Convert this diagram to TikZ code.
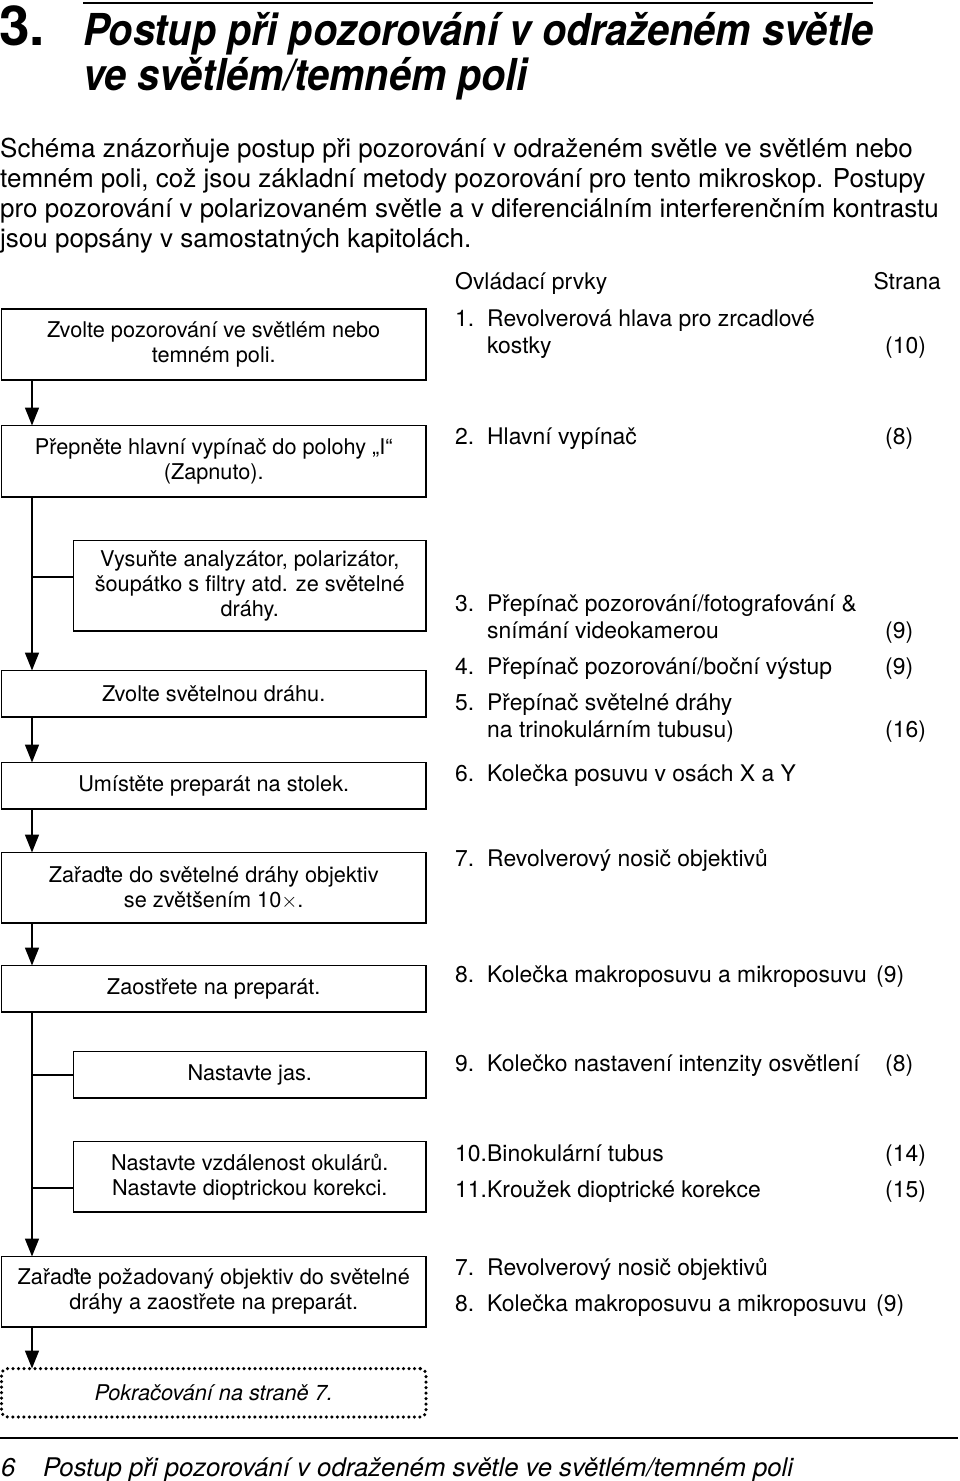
\documentclass[tikz,border=0pt]{standalone}
\usepackage{fontspec}
\setmainfont{TeX Gyre Heros}
\newfontfamily\titlefont[FakeStretch=0.9]{TeX Gyre Heros}
\usetikzlibrary{arrows.meta}
\tikzset{
  flow/.style={draw, line width=1.6pt, inner sep=0pt, outer sep=0pt, anchor=north west,
    align=center, font=\fontsize{21.7}{25}\selectfont},
  endbox/.style={flow, line width=3.5pt, dash pattern=on 0pt off 5.5pt, line cap=round,
    rounded corners=6pt, font=\fontsize{21.7}{25}\selectfont\itshape},
  conn/.style={line width=1.5pt},
  arr/.style={conn, -{Triangle[length=18pt,width=14pt]}},
  ctl/.style={anchor=base west, inner sep=0pt, font=\fontsize{22.9}{27}\selectfont},
  pge/.style={anchor=base east, inner sep=0pt, font=\fontsize{22.9}{27}\selectfont},
  para/.style={anchor=base west, inner sep=0pt, font=\fontsize{26}{30}\selectfont},
  ttl/.style={anchor=base west, inner sep=0pt, font=\titlefont\fontsize{44}{45}\selectfont\bfseries\itshape},
  foot/.style={anchor=base west, inner sep=0pt, font=\fontsize{25.7}{30}\selectfont\itshape}
}
\begin{document}
\begin{tikzpicture}[x=1pt,y=-1pt]
\useasboundingbox (0,0) rectangle (960,1481);
% header
\coordinate (hl1) at (83,3);
\coordinate (hl2) at (873,3);
\draw[line width=2.5pt] (hl1) -- (hl2);
\node[anchor=base west, inner sep=0pt, font=\fontsize{55}{55}\selectfont\bfseries] (num) at (-1,45) {3.};
\node[ttl] (t1) at (83,45) {Postup při pozorování v odraženém světle};
\node[ttl] (t2) at (83,90) {ve světlém/temném poli};
% paragraph
\node[para] (p1) at (0,157) {Schéma znázorňuje postup při pozorování v odraženém světle ve světlém nebo};
\node[para] (p2) at (0,187) {temném poli, což jsou základní metody pozorování pro tento mikroskop. Postupy};
\node[para] (p3) at (0,217) {pro pozorování v polarizovaném světle a v diferenciálním interferenčním kontrastu};
\node[para] (p4) at (0,247) {jsou popsány v samostatných kapitolách.};
% flow boxes
\coordinate (sp) at (32,0);
\node[flow, minimum width=424.5pt, minimum height=71pt] (b1) at (1.5,309) {Zvolte pozorování ve světlém nebo\\temném poli.};
\node[flow, minimum width=424.5pt, minimum height=71.5pt] (b2) at (1.5,425.5) {Přepněte hlavní vypínač do polohy „I“\\(Zapnuto).};
\node[flow, minimum width=352.5pt, minimum height=90.5pt] (b3) at (73.5,540.5) {Vysuňte analyzátor, polarizátor,\\šoupátko s filtry atd. ze světelné\\dráhy.};
\node[flow, minimum width=424.5pt, minimum height=46.5pt] (b4) at (1.5,670.5) {Zvolte světelnou dráhu.};
\node[flow, minimum width=424.5pt, minimum height=46.5pt] (b5) at (1.5,762.5) {Umístěte preparát na stolek.};
\node[flow, minimum width=424.5pt, minimum height=70.5pt] (b6) at (1.5,852.5) {Zařaďte do světelné dráhy objektiv\\se zvětšením 10$\times$.};
\node[flow, minimum width=424.5pt, minimum height=46.5pt] (b7) at (1.5,965.5) {Zaostřete na preparát.};
\node[flow, minimum width=352.5pt, minimum height=46.5pt] (b8) at (73.5,1051.5) {Nastavte jas.};
\node[flow, minimum width=352.5pt, minimum height=70.5pt] (b9) at (73.5,1141.5) {Nastavte vzdálenost okulárů.\\Nastavte dioptrickou korekci.};
\node[flow, minimum width=424.5pt, minimum height=70.5pt] (b10) at (1.5,1256.5) {Zařaďte požadovaný objektiv do světelné\\dráhy a zaostřete na preparát.};
\node[endbox, minimum width=424.5pt, minimum height=48.5pt] (b11) at (1.5,1368.5) {Pokračování na straně 7.};
% connectors
\draw[arr] (b1.south -| sp) -- (b2.north -| sp);
\draw[arr] (b2.south -| sp) -- (b4.north -| sp);
\coordinate (j3) at ([yshift=8.75pt]b3.west);
\draw[conn] (j3) -- (j3 -| sp);
\draw[arr] (b4.south -| sp) -- (b5.north -| sp);
\draw[arr] (b5.south -| sp) -- (b6.north -| sp);
\draw[arr] (b6.south -| sp) -- (b7.north -| sp);
\draw[arr] (b7.south -| sp) -- (b10.north -| sp);
\coordinate (j8) at (b8.west);
\draw[conn] (j8) -- (j8 -| sp);
\coordinate (j9) at ([yshift=-11.25pt]b9.west);
\draw[conn] (j9) -- (j9 -| sp);
\draw[arr] (b10.south -| sp) -- (b11.north -| sp);
% controls column
\node[ctl] (c0) at (455,289) {Ovládací prvky};
\node[pge] (s0) at (941,289) {Strana};
\node[ctl] (n1) at (455,326) {1.};
\node[ctl] (c1) at (487,326) {Revolverová hlava pro zrcadlové};
\node[ctl] (c1b) at (487,353) {kostky};
\node[ctl] (s1) at (885,353) {(10)};
\node[ctl] (n2) at (455,444) {2.};
\node[ctl] (c2) at (487,444) {Hlavní vypínač};
\node[ctl] (s2) at (885,444) {(8)};
\node[ctl] (n3) at (455,611) {3.};
\node[ctl] (c3) at (487,611) {Přepínač pozorování/fotografování \&};
\node[ctl] (c3b) at (487,638) {snímání videokamerou};
\node[ctl] (s3) at (885,638) {(9)};
\node[ctl] (n4) at (455,674) {4.};
\node[ctl] (c4) at (487,674) {Přepínač pozorování/boční výstup};
\node[ctl] (s4) at (885,674) {(9)};
\node[ctl] (n5) at (455,710) {5.};
\node[ctl] (c5) at (487,710) {Přepínač světelné dráhy};
\node[ctl] (c5b) at (487,737) {na trinokulárním tubusu)};
\node[ctl] (s5) at (885,737) {(16)};
\node[ctl] (n6) at (455,781) {6.};
\node[ctl] (c6) at (487,781) {Kolečka posuvu v osách X a Y};
\node[ctl] (n7) at (455,866) {7.};
\node[ctl] (c7) at (487,866) {Revolverový nosič objektivů};
\node[ctl] (n8) at (455,982) {8.};
\node[ctl] (c8) at (487,982) {Kolečka makroposuvu a mikroposuvu};
\node[ctl] (s8) at (876,982) {(9)};
\node[ctl] (n9) at (455,1071) {9.};
\node[ctl] (c9) at (487,1071) {Kolečko nastavení intenzity osvětlení};
\node[ctl] (s9) at (885,1071) {(8)};
\node[ctl] (n10) at (455,1161) {10.};
\node[ctl] (c10) at (487,1161) {Binokulární tubus};
\node[ctl] (s10) at (885,1161) {(14)};
\node[ctl] (n11) at (455,1197) {11.};
\node[ctl] (c11) at (487,1197) {Kroužek dioptrické korekce};
\node[ctl] (s11) at (885,1197) {(15)};
\node[ctl] (n7b) at (455,1275) {7.};
\node[ctl] (c7b) at (487,1275) {Revolverový nosič objektivů};
\node[ctl] (n8b) at (455,1311) {8.};
\node[ctl] (c8b) at (487,1311) {Kolečka makroposuvu a mikroposuvu};
\node[ctl] (s8b) at (876,1311) {(9)};
% footer
\coordinate (fl1) at (0,1438);
\coordinate (fl2) at (958,1438);
\draw[line width=1.5pt] (fl1) -- (fl2);
\node[foot] (f1) at (1,1476) {6};
\node[foot] (f2) at (43,1476) {Postup při pozorování v odraženém světle ve světlém/temném poli};
\end{tikzpicture}
\end{document}
